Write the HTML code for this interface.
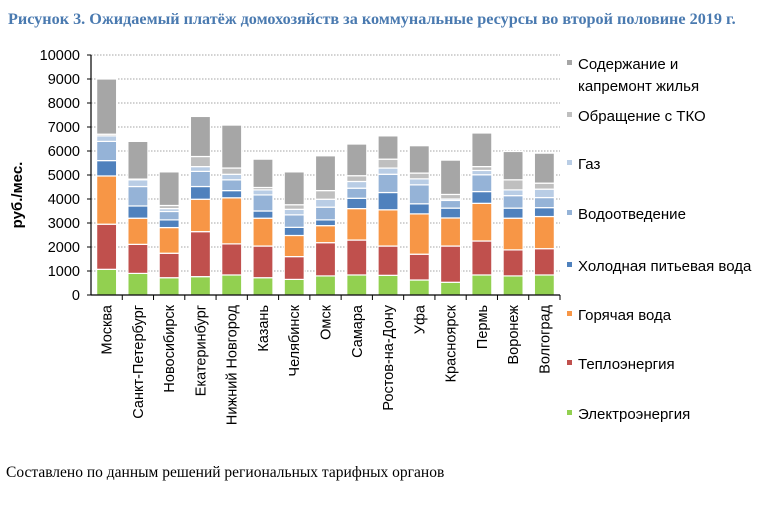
<!DOCTYPE html>
<html><head><meta charset="utf-8"><style>
body{margin:0;background:#fff;width:778px;height:501px;overflow:hidden;font-family:"Liberation Sans","Noto Sans CJK SC",sans-serif}
</style></head><body>
<svg id="c" width="778" height="501" xmlns="http://www.w3.org/2000/svg">
<text x="8" y="24" font-family="Liberation Serif, serif" font-weight="bold" font-size="16.2" fill="#4a7ab0">Рисунок 3. Ожидаемый платёж домохозяйств за коммунальные ресурсы во второй половине 2019 г.</text>
<text transform="translate(22,195) rotate(-90)" text-anchor="middle" font-weight="bold" font-size="15" fill="#000">руб./мес.</text>
<text x="6" y="477" font-family="Liberation Serif, serif" font-size="15.5" fill="#000">Составлено по данным решений региональных тарифных органов</text>
<g id="grid"></g><g id="bars"></g><g id="axes"></g><g id="legend"></g>
</svg>
<script>
const cities=["Москва","Санкт-Петербург","Новосибирск","Екатеринбург","Нижний Новгород","Казань","Челябинск","Омск","Самара","Ростов-на-Дону","Уфа","Красноярск","Пермь","Воронеж","Волгоград"];
const elektro=[1070,900,720,765,835,720,650,795,835,820,625,530,835,795,835];
const teplo=[1880,1210,1020,1875,1295,1320,950,1385,1455,1220,1075,1510,1415,1085,1095];
const hotWater=[2010,1090,1070,1350,1920,1160,880,710,1310,1510,1680,1170,1570,1320,1340];
const coldWater=[640,510,320,530,300,300,340,240,430,720,420,410,490,420,370];
const vodootv=[800,810,350,630,450,670,520,530,420,760,790,320,700,520,420];
const gas=[230,280,120,200,230,210,230,330,280,260,250,60,180,240,350];
const tko=[70,30,130,420,260,100,190,360,240,370,240,190,160,420,250];
const soderzh=[2300,1570,1400,1670,1790,1180,1370,1450,1320,970,1140,1430,1400,1180,1250];
const yTicks=[0,1000,2000,3000,4000,5000,6000,7000,8000,9000,10000];
const seriesNames=["Электроэнергия","Теплоэнергия","Горячая вода","Холодная питьевая вода","Водоотведение","Газ","Обращение с ТКО","Содержание и капремонт жилья"];
const series=[elektro,teplo,hotWater,coldWater,vodootv,gas,tko,soderzh];
const colors=["#92d050","#c0504d","#f79646","#4f81bd","#95b3d7","#b9cde5","#bfbfbf","#a6a6a6"];
const NS="http://www.w3.org/2000/svg";
const x0=91,x1=560,yb=295,yt=55;
const y=v=>yb-(v/10000)*(yb-yt);
const step=(x1-x0)/cities.length;
const xc=i=>x0+step*(i+0.5);
function mk(t,a,p){const e=document.createElementNS(NS,t);for(const k in a)e.setAttribute(k,a[k]);p.appendChild(e);return e;}
const grid=document.getElementById('grid'),bars=document.getElementById('bars'),axes=document.getElementById('axes'),leg=document.getElementById('legend');
yTicks.forEach(v=>{
 if(v>0){const g=mk('line',{x1:x0,x2:x1,y1:y(v),y2:y(v),stroke:'#888','stroke-dasharray':'1.5,1.5','stroke-width':0.8},grid);
 
 }
 const t=mk('text',{x:x0-11,y:y(v)+5,'text-anchor':'end','font-size':14.5,fill:'#000'},axes);t.textContent=v;
 
 
 mk('line',{x1:x0-4,x2:x0,y1:y(v),y2:y(v),stroke:'#000'},axes);
});
const bw=20;
cities.forEach((c,i)=>{
 let cum=0;
 series.forEach((s,k)=>{
  const v=s[i];const r=mk('rect',{x:xc(i)-bw/2,y:y(cum+v),width:bw,height:Math.max(0,y(cum)-y(cum+v)),fill:colors[k],stroke:'#fff','stroke-width':1.2},bars);
  
  
  cum+=v;
 });
 mk('line',{x1:x0+step*(i+1),x2:x0+step*(i+1),y1:yb,y2:yb+5,stroke:'#000'},axes);
 const t=mk('text',{transform:`translate(${xc(i)+5},${yb+10}) rotate(-90)`,'text-anchor':'end','font-size':14.5,fill:'#000'},axes);t.textContent=c;
 
 
});
mk('line',{x1:x0,x2:x0,y1:yt,y2:yb,stroke:'#000','stroke-width':1.2},axes);
mk('line',{x1:x0,x2:x1,y1:yb,y2:yb,stroke:'#000','stroke-width':1.2},axes);
const legY=[419,369,320,271,219,169,121,69];
for(let k=7;k>=0;k--){
 const g=mk('g',{},leg);
 
 
 mk('rect',{x:567,y:legY[k]-9,width:5,height:5,fill:colors[k]},g);
 const t=mk('text',{x:578,y:legY[k],'font-size':15,fill:'#000'},g);
 if(k==7){t.textContent='Содержание и';const t2=mk('text',{x:578,y:legY[k]+22,'font-size':15,fill:'#000'},g);t2.textContent='капремонт жилья';}
 else t.textContent=seriesNames[k];
}
</script>
</body></html>
